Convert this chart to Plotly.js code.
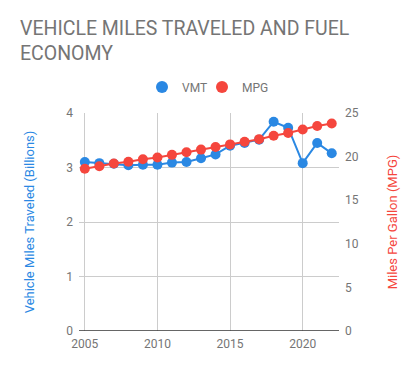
<!DOCTYPE html>
<html><head><meta charset="utf-8">
<script src="https://cdn.plot.ly/plotly-3.0.1.min.js"></script>
<style>body{margin:0;padding:0;background:#fff}#chart{width:418px;height:371px}</style>
</head><body><div id="chart"></div>
<script>
const years = [2005,2006,2007,2008,2009,2010,2011,2012,2013,2014,2015,2016,2017,2018,2019,2020,2021,2022];
const vmt = [3.10,3.08,3.07,3.04,3.05,3.05,3.09,3.10,3.17,3.24,3.40,3.45,3.51,3.84,3.73,3.08,3.45,3.26];
const mpg = [18.6,18.9,19.2,19.4,19.7,19.9,20.2,20.5,20.8,21.1,21.4,21.7,22.0,22.4,22.7,23.1,23.5,23.8];
const blue = '#2a88e3', red = '#f5463d', gray = '#757575';
const traces = [
  {x: years, y: vmt, name: 'VMT', type: 'scatter', mode: 'lines+markers', showlegend: false,
   line: {color: blue, width: 2}, marker: {color: blue, size: 10}, yaxis: 'y'},
  {x: years, y: mpg, name: 'MPG', type: 'scatter', mode: 'lines+markers', showlegend: false,
   line: {color: red, width: 2}, marker: {color: red, size: 10}, yaxis: 'y2'},
  {x: [null], y: [null], name: 'VMT', type: 'scatter', mode: 'markers', marker: {color: blue, size: 12}, legend: 'legend'},
  {x: [null], y: [null], name: 'MPG', type: 'scatter', mode: 'markers', marker: {color: red, size: 12}, legend: 'legend2'}
];
const legendBase = {orientation: 'h', xanchor: 'left', xref: 'container', yref: 'container',
                    y: 1 - 87/371, yanchor: 'middle', font: {size: 12, color: gray}, bgcolor: 'rgba(0,0,0,0)'};
const layout = {
  width: 418, height: 371,
  margin: {l: 79, r: 79, t: 113, b: 40},
  paper_bgcolor: '#fff', plot_bgcolor: '#fff',
  font: {family: 'Roboto, sans-serif', color: gray, size: 12},
  title: {text: 'VEHICLE MILES TRAVELED AND FUEL<br>ECONOMY', x: 20/418, xanchor: 'left',
          y: 1 - 35/371, yanchor: 'top', yref: 'container',
          font: {size: 19.5, color: gray, family: 'Roboto, sans-serif'}},
  showlegend: true,
  legend: Object.assign({}, legendBase, {x: 142/418}),
  legend2: Object.assign({}, legendBase, {x: 202/418}),
  xaxis: {range: [2004.6, 2022.5], tickvals: [2005, 2010, 2015, 2020], showgrid: true, gridcolor: '#cccccc',
          zeroline: false, showline: false, tickfont: {size: 12, color: gray}, ticks: '', ticklabelstandoff: 4},
  yaxis: {range: [0, 4], tickvals: [0,1,2,3,4], showgrid: true, gridcolor: '#cccccc', zeroline: false,
          showline: false, ticks: '', tickfont: {size: 12, color: gray}, ticklabelstandoff: 5,
          title: {text: 'Vehicle Miles Traveled (Billions)', font: {size: 13, color: blue}, standoff: 28}},
  yaxis2: {range: [0, 25], tickvals: [0,5,10,15,20,25], overlaying: 'y', side: 'right', showgrid: false,
           zeroline: false, showline: false, ticks: '', tickfont: {size: 12, color: gray}, ticklabelstandoff: 5,
           title: {text: 'Miles Per Gallon (MPG)', font: {size: 13, color: red}, standoff: 30}},
  shapes: [{type: 'line', xref: 'paper', yref: 'y', x0: 0, x1: 1, y0: 0, y1: 0, line: {color: '#333', width: 1.5}}]
};
Plotly.newPlot('chart', traces, layout, {displayModeBar: false, staticPlot: true});
</script></body></html>
